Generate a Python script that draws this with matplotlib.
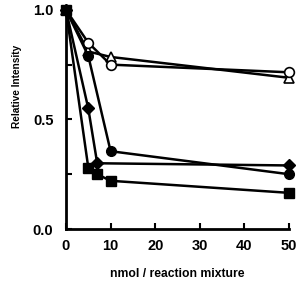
import matplotlib
matplotlib.use('Agg')
import matplotlib.pyplot as plt

plt.rcParams['font.family'] = ['Liberation Sans', 'DejaVu Sans']
plt.rcParams['font.weight'] = 'bold'

# Relative intensity vs amount (nmol / reaction mixture)
x_open_circle = [0, 5, 10, 50]
y_open_circle = [1.0, 0.85, 0.75, 0.715]
x_triangle = [0, 5, 10, 50]
y_triangle = [1.0, 0.81, 0.785, 0.69]
x_filled_circle = [0, 5, 10, 50]
y_filled_circle = [1.0, 0.79, 0.355, 0.25]
x_diamond = [0, 5, 7, 50]
y_diamond = [1.0, 0.55, 0.30, 0.29]
x_square = [0, 5, 7, 10, 50]
y_square = [1.0, 0.28, 0.25, 0.22, 0.165]

fig = plt.figure(figsize=(3.04, 2.81), dpi=100)
ax = fig.add_axes([0.217, 0.185, 0.734, 0.78])

kw = dict(color='black', lw=1.8, clip_on=False)
ax.plot(x_triangle, y_triangle, marker='^', ms=6.5, mfc='white', mec='black', mew=1.2, **kw)
ax.plot(x_open_circle, y_open_circle, marker='o', ms=7, mfc='white', mec='black', mew=1.2, **kw)
ax.plot(x_filled_circle, y_filled_circle, marker='o', ms=7, mfc='black', **kw)
ax.plot(x_diamond, y_diamond, marker='D', ms=6.5, mfc='black', **kw)
ax.plot(x_square, y_square, marker='s', ms=7, mfc='black', **kw)

ax.set_xlim(0, 50)
ax.set_ylim(0, 1.0)
ax.set_xticks([0, 10, 20, 30, 40, 50])
ax.set_yticks([0, 0.5, 1.0])
ax.set_yticklabels(['0.0', '0.5', '1.0'])
ax.set_yticks([0.25, 0.75], minor=True)

for s in ['top', 'right']:
    ax.spines[s].set_visible(False)
for s in ['left', 'bottom']:
    ax.spines[s].set_linewidth(2)

ax.tick_params(axis='both', which='both', direction='in', width=1.5, labelsize=10.5)
ax.tick_params(axis='x', which='major', length=4, pad=7)
ax.tick_params(axis='y', which='major', length=4, pad=9)
ax.tick_params(axis='y', which='minor', length=4)

ax.set_xlabel('nmol / reaction mixture', fontsize=8.7, fontweight='bold', labelpad=11)
ax.set_ylabel('Relative Intensity', fontsize=7.3, fontweight='bold')
ax.yaxis.set_label_coords(-0.197, 0.653)

plt.savefig('out.png', dpi=100)
